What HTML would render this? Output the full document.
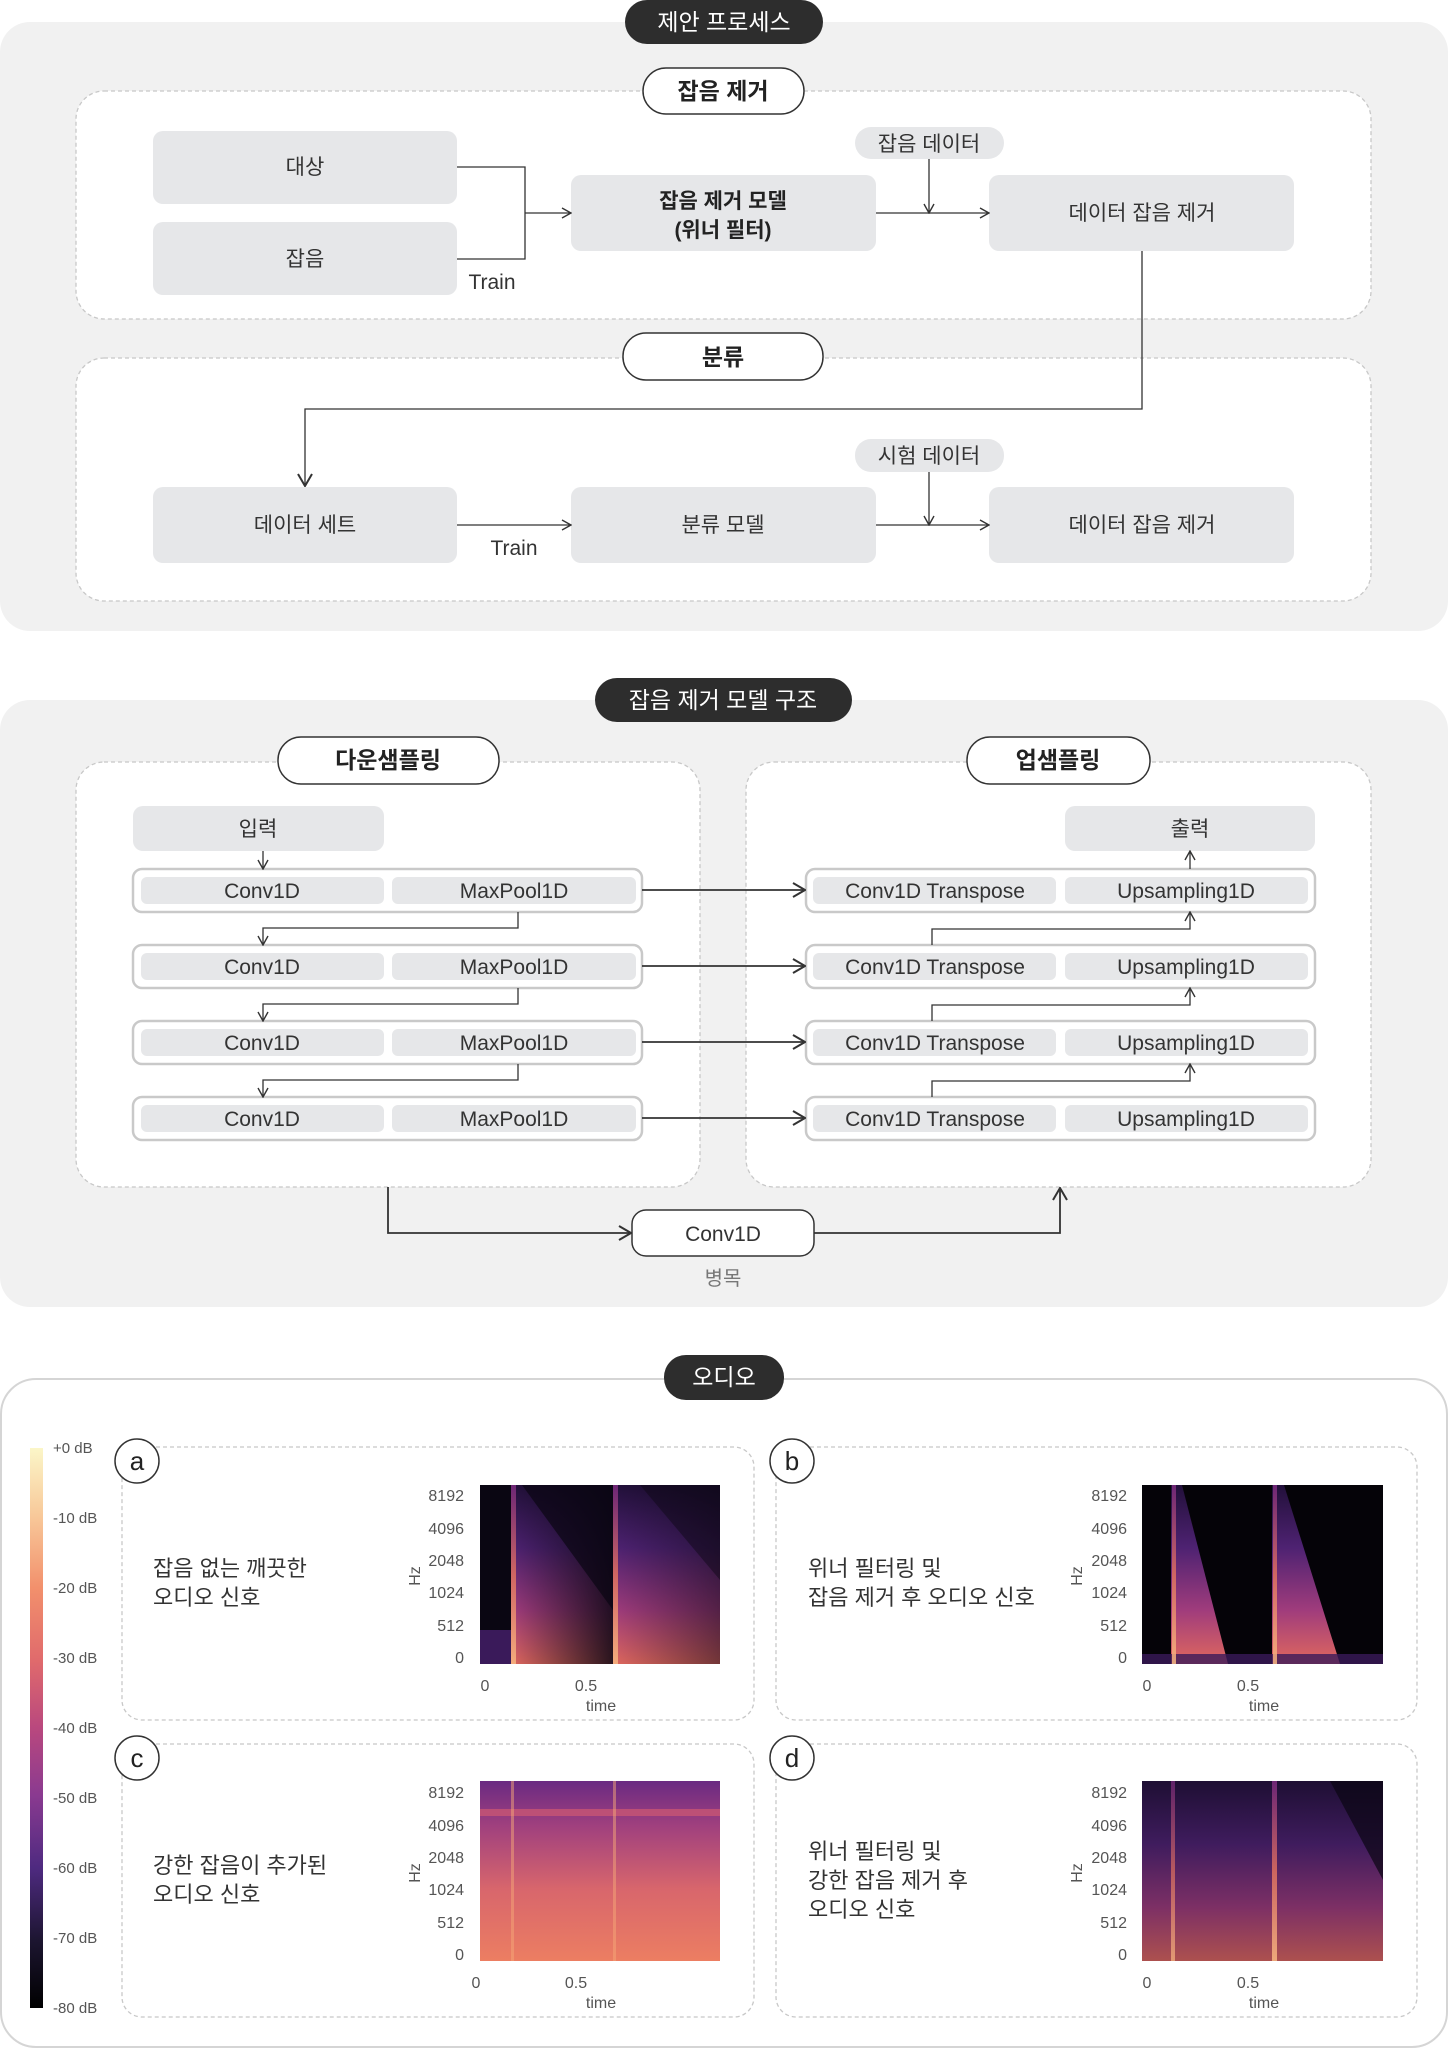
<!DOCTYPE html>
<html><head><meta charset="utf-8"><style>
html,body{margin:0;padding:0;background:#fff;}
svg{display:block;font-family:"Liberation Sans","Noto Sans CJK KR",sans-serif;}
</style></head><body>
<svg width="1448" height="2050" viewBox="0 0 1448 2050" xmlns="http://www.w3.org/2000/svg">
<defs>
<marker id="ar" viewBox="0 0 12 12" refX="11" refY="6" markerWidth="12" markerHeight="12" markerUnits="userSpaceOnUse" orient="auto"><path d="M2,1 L11,6 L2,11" fill="none" stroke="#333" stroke-width="1.4"/></marker>
<marker id="ar2" viewBox="0 0 16 16" refX="15" refY="8" markerWidth="16" markerHeight="16" markerUnits="userSpaceOnUse" orient="auto"><path d="M3,1 L15,8 L3,15" fill="none" stroke="#333" stroke-width="2"/></marker>
<linearGradient id="cb" x1="0" y1="0" x2="0" y2="1">
<stop offset="0" stop-color="#fbf6c8"/><stop offset="0.12" stop-color="#f8c99a"/><stop offset="0.25" stop-color="#f2906c"/><stop offset="0.38" stop-color="#e06a6c"/><stop offset="0.5" stop-color="#b9487e"/><stop offset="0.62" stop-color="#8a3a90"/><stop offset="0.75" stop-color="#4e2a80"/><stop offset="0.88" stop-color="#1c1530"/><stop offset="1" stop-color="#000"/></linearGradient>
<linearGradient id="gv" x1="0" y1="1" x2="0" y2="0">
<stop offset="0" stop-color="#e0685e"/><stop offset="0.3" stop-color="#a03c7c"/><stop offset="0.65" stop-color="#4e2272"/><stop offset="1" stop-color="#22103a"/></linearGradient>
<linearGradient id="gc" x1="0" y1="1" x2="0" y2="0">
<stop offset="0" stop-color="#ec7e62"/><stop offset="0.4" stop-color="#d8666c"/><stop offset="0.75" stop-color="#a0407e"/><stop offset="1" stop-color="#6a2a82"/></linearGradient>
<linearGradient id="strip" x1="0" y1="1" x2="0" y2="0">
<stop offset="0" stop-color="#f8b882"/><stop offset="0.5" stop-color="#e0705e"/><stop offset="1" stop-color="#7a2a80"/></linearGradient>
<linearGradient id="fade" x1="0" y1="0" x2="1" y2="0">
<stop offset="0" stop-color="#0a0612" stop-opacity="0"/><stop offset="1" stop-color="#0a0612" stop-opacity="0.85"/></linearGradient>
</defs>

<!-- SECTION 1 -->
<rect x="0" y="22" width="1448" height="609" rx="30" fill="#f1f1f1"/>
<rect x="625" y="0" width="198" height="44" rx="22" fill="#2d2d2d"/>
<text x="724" y="30" font-size="23" fill="#fff" text-anchor="middle">제안 프로세스</text>

<rect x="76" y="91" width="1295" height="228" rx="28" fill="#fff" stroke="#c8c8c8" stroke-width="1.3" stroke-dasharray="4 3"/>
<rect x="643" y="68" width="161" height="46" rx="23" fill="#fff" stroke="#333" stroke-width="1.5"/>
<text x="723" y="99" font-size="23" fill="#222" text-anchor="middle" font-weight="bold">잡음 제거</text>

<g font-size="21" fill="#333" text-anchor="middle">
<rect x="153" y="131" width="304" height="73" rx="10" fill="#e6e7e9"/>
<text x="305" y="174">대상</text>
<rect x="153" y="222" width="304" height="73" rx="10" fill="#e6e7e9"/>
<text x="305" y="266">잡음</text>
<rect x="571" y="175" width="305" height="76" rx="10" fill="#e6e7e9"/>
<text x="723" y="208" font-weight="bold" fill="#222">잡음 제거 모델</text>
<text x="723" y="237" font-weight="bold" fill="#222">(위너 필터)</text>
<rect x="989" y="175" width="305" height="76" rx="10" fill="#e6e7e9"/>
<text x="1142" y="220">데이터 잡음 제거</text>
<rect x="855" y="127" width="149" height="32" rx="16" fill="#e6e7e9"/>
<text x="929" y="151">잡음 데이터</text>
<text x="492" y="289">Train</text>
</g>
<g fill="none" stroke="#333" stroke-width="1.3">
<path d="M457 167 H525 V259 H457"/>
<path d="M525 213 H571" marker-end="url(#ar)"/>
<path d="M876 213 H989" marker-end="url(#ar)"/>
<path d="M929 159 V213" marker-end="url(#ar)"/>
</g>

<rect x="76" y="358" width="1295" height="243" rx="28" fill="#fff" stroke="#c8c8c8" stroke-width="1.3" stroke-dasharray="4 3"/>
<path d="M1142 251 V409 H305 V486" fill="none" stroke="#333" stroke-width="1.3" marker-end="url(#ar2)"/>
<rect x="623" y="333" width="200" height="47" rx="23" fill="#fff" stroke="#333" stroke-width="1.5"/>
<text x="723" y="365" font-size="23" fill="#222" text-anchor="middle" font-weight="bold">분류</text>
<g font-size="21" fill="#333" text-anchor="middle">
<rect x="153" y="487" width="304" height="76" rx="10" fill="#e6e7e9"/>
<text x="305" y="532">데이터 세트</text>
<rect x="571" y="487" width="305" height="76" rx="10" fill="#e6e7e9"/>
<text x="723" y="532">분류 모델</text>
<rect x="989" y="487" width="305" height="76" rx="10" fill="#e6e7e9"/>
<text x="1142" y="532">데이터 잡음 제거</text>
<rect x="855" y="439" width="149" height="33" rx="16" fill="#e6e7e9"/>
<text x="929" y="463">시험 데이터</text>
<text x="514" y="555">Train</text>
</g>
<g fill="none" stroke="#333" stroke-width="1.3">
<path d="M457 525 H571" marker-end="url(#ar)"/>
<path d="M876 525 H989" marker-end="url(#ar)"/>
<path d="M929 472 V525" marker-end="url(#ar)"/>
</g>

<!-- SECTION 2 -->
<rect x="0" y="700" width="1448" height="607" rx="30" fill="#f1f1f1"/>
<rect x="595" y="678" width="257" height="44" rx="22" fill="#2d2d2d"/>
<text x="723" y="708" font-size="23" fill="#fff" text-anchor="middle">잡음 제거 모델 구조</text>

<rect x="76" y="762" width="624" height="425" rx="28" fill="#fff" stroke="#c8c8c8" stroke-width="1.3" stroke-dasharray="4 3"/>
<rect x="746" y="762" width="625" height="425" rx="28" fill="#fff" stroke="#c8c8c8" stroke-width="1.3" stroke-dasharray="4 3"/>
<rect x="278" y="737" width="221" height="47" rx="23" fill="#fff" stroke="#333" stroke-width="1.5"/>
<text x="388" y="768" font-size="23" fill="#222" text-anchor="middle" font-weight="bold">다운샘플링</text>
<rect x="967" y="737" width="183" height="47" rx="23" fill="#fff" stroke="#333" stroke-width="1.5"/>
<text x="1058" y="768" font-size="23" fill="#222" text-anchor="middle" font-weight="bold">업샘플링</text>

<g font-size="21" fill="#333" text-anchor="middle">
<rect x="133" y="806" width="251" height="45" rx="10" fill="#e6e7e9"/>
<text x="258" y="836">입력</text>
<rect x="1065" y="806" width="250" height="45" rx="10" fill="#e6e7e9"/>
<text x="1190" y="836">출력</text>

<g id="rowL">
<rect x="133" y="869" width="509" height="43" rx="9" fill="#fff" stroke="#c9c9c9" stroke-width="2.5"/>
<rect x="141" y="877" width="243" height="27" rx="6" fill="#e6e7e9"/>
<rect x="392" y="877" width="244" height="27" rx="6" fill="#e6e7e9"/>
<text x="262" y="898">Conv1D</text>
<text x="514" y="898">MaxPool1D</text>
<rect x="806" y="869" width="509" height="43" rx="9" fill="#fff" stroke="#c9c9c9" stroke-width="2.5"/>
<rect x="813" y="877" width="243" height="27" rx="6" fill="#e6e7e9"/>
<rect x="1065" y="877" width="243" height="27" rx="6" fill="#e6e7e9"/>
<text x="935" y="898">Conv1D Transpose</text>
<text x="1186" y="898">Upsampling1D</text>
</g>
<use href="#rowL" y="76"/>
<use href="#rowL" y="152"/>
<use href="#rowL" y="228"/>
</g>
<g fill="none" stroke="#333" stroke-width="1.3">
<path d="M263 851 V869" marker-end="url(#ar)"/>
<path d="M1190 869 V851" marker-end="url(#ar)"/>
<path d="M518 912 V928 H263 V945" marker-end="url(#ar)"/>
<path d="M518 988 V1004 H263 V1021" marker-end="url(#ar)"/>
<path d="M518 1064 V1080 H263 V1097" marker-end="url(#ar)"/>
<path d="M932 945 V929 H1190 V912" marker-end="url(#ar)"/>
<path d="M932 1021 V1005 H1190 V988" marker-end="url(#ar)"/>
<path d="M932 1097 V1081 H1190 V1064" marker-end="url(#ar)"/>
</g>
<g fill="none" stroke="#333" stroke-width="1.8">
<path d="M642 890 H805" marker-end="url(#ar2)"/>
<path d="M642 966 H805" marker-end="url(#ar2)"/>
<path d="M642 1042 H805" marker-end="url(#ar2)"/>
<path d="M642 1118 H805" marker-end="url(#ar2)"/>
<path d="M388 1187 V1233 H631" marker-end="url(#ar2)"/>
<path d="M814 1233 H1060 V1188" marker-end="url(#ar2)"/>
</g>
<rect x="632" y="1210" width="182" height="46" rx="14" fill="#fff" stroke="#333" stroke-width="1.5"/>
<text x="723" y="1241" font-size="21" fill="#333" text-anchor="middle">Conv1D</text>
<text x="723" y="1285" font-size="20" fill="#777" text-anchor="middle">병목</text>

<!-- SECTION 3 -->
<rect x="1" y="1379" width="1446" height="668" rx="35" fill="#fff" stroke="#d5d5d5" stroke-width="2"/>
<rect x="664" y="1355" width="120" height="45" rx="22" fill="#2d2d2d"/>
<text x="724" y="1385" font-size="23" fill="#fff" text-anchor="middle">오디오</text>

<rect x="30" y="1448" width="13" height="560" fill="url(#cb)"/>
<g font-size="15" fill="#555">
<text x="53" y="1453">+0 dB</text>
<text x="53" y="1523">-10 dB</text>
<text x="53" y="1593">-20 dB</text>
<text x="53" y="1663">-30 dB</text>
<text x="53" y="1733">-40 dB</text>
<text x="53" y="1803">-50 dB</text>
<text x="53" y="1873">-60 dB</text>
<text x="53" y="1943">-70 dB</text>
<text x="53" y="2013">-80 dB</text>
</g>

<g fill="#fff" stroke="#c8c8c8" stroke-width="1.3" stroke-dasharray="4 3">
<rect x="122" y="1447" width="632" height="273" rx="20"/>
<rect x="776" y="1447" width="641" height="273" rx="20"/>
<rect x="122" y="1744" width="632" height="273" rx="20"/>
<rect x="776" y="1744" width="641" height="273" rx="20"/>
</g>
<g fill="#fff" stroke="#333" stroke-width="1.5">
<circle cx="137" cy="1461" r="22"/><circle cx="792" cy="1461" r="22"/>
<circle cx="137" cy="1758" r="22"/><circle cx="792" cy="1758" r="22"/>
</g>
<g font-size="26" fill="#222" text-anchor="middle">
<text x="137" y="1470">a</text><text x="792" y="1470">b</text>
<text x="137" y="1767">c</text><text x="792" y="1767">d</text>
</g>
<g font-size="22" fill="#333">
<text x="153" y="1576">잡음 없는 깨끗한</text><text x="153" y="1605">오디오 신호</text>
<text x="808" y="1576">위너 필터링 및</text><text x="808" y="1605">잡음 제거 후 오디오 신호</text>
<text x="153" y="1873">강한 잡음이 추가된</text><text x="153" y="1902">오디오 신호</text>
<text x="808" y="1859">위너 필터링 및</text><text x="808" y="1888">강한 잡음 제거 후</text><text x="808" y="1917">오디오 신호</text>
</g>

<g font-size="16" fill="#555" text-anchor="end">
<g id="ticks">
<text x="464" y="1501">8192</text><text x="464" y="1534">4096</text><text x="464" y="1566">2048</text>
<text x="464" y="1598">1024</text><text x="464" y="1631">512</text><text x="464" y="1663">0</text>
</g>
<use href="#ticks" y="297"/>
<use href="#ticks" x="663"/>
<use href="#ticks" x="663" y="297"/>
</g>
<g font-size="16" fill="#555" text-anchor="middle">
<text transform="translate(420,1576) rotate(-90)">Hz</text>
<text transform="translate(420,1873) rotate(-90)">Hz</text>
<text transform="translate(1082,1576) rotate(-90)">Hz</text>
<text transform="translate(1082,1873) rotate(-90)">Hz</text>
<text x="485" y="1691">0</text><text x="586" y="1691">0.5</text><text x="601" y="1711">time</text>
<text x="476" y="1988">0</text><text x="576" y="1988">0.5</text><text x="601" y="2008">time</text>
<text x="1147" y="1691">0</text><text x="1248" y="1691">0.5</text><text x="1264" y="1711">time</text>
<text x="1147" y="1988">0</text><text x="1248" y="1988">0.5</text><text x="1264" y="2008">time</text>
</g>

<!-- spectrogram a -->
<rect x="480" y="1485" width="240" height="179" fill="#0a0612"/>
<rect x="480" y="1630" width="31" height="34" fill="#3a1a5a"/>
<rect x="511" y="1485" width="102" height="179" fill="url(#gv)"/>
<rect x="511" y="1485" width="102" height="179" fill="url(#fade)"/>
<polygon points="522,1485 613,1485 613,1610" fill="#0a0612" opacity="0.7"/>
<rect x="613" y="1485" width="107" height="179" fill="url(#gv)"/>
<rect x="613" y="1485" width="107" height="179" fill="url(#fade)" opacity="0.6"/>
<polygon points="640,1485 720,1485 720,1580" fill="#0a0612" opacity="0.45"/>
<rect x="511" y="1485" width="5" height="179" fill="url(#strip)" opacity="0.85"/>
<rect x="613" y="1485" width="5" height="179" fill="url(#strip)" opacity="0.85"/>

<!-- spectrogram b -->
<rect x="1142" y="1485" width="241" height="179" fill="#050308"/>
<polygon points="1171,1485 1182,1485 1228,1664 1171,1664" fill="url(#gv)"/>
<polygon points="1272,1485 1284,1485 1340,1664 1272,1664" fill="url(#gv)"/>
<rect x="1142" y="1654" width="241" height="10" fill="#3a1a5a" opacity="0.8"/>
<rect x="1172" y="1485" width="4" height="179" fill="url(#strip)" opacity="0.85"/>
<rect x="1273" y="1485" width="4" height="179" fill="url(#strip)" opacity="0.85"/>

<!-- spectrogram c -->
<rect x="480" y="1781" width="240" height="180" fill="url(#gc)"/>
<rect x="480" y="1809" width="240" height="7" fill="#d05a72" opacity="0.7"/>
<rect x="511" y="1781" width="3" height="180" fill="#f6a878" opacity="0.5"/>
<rect x="613" y="1781" width="3" height="180" fill="#f6a878" opacity="0.5"/>

<!-- spectrogram d -->
<rect x="1142" y="1781" width="241" height="180" fill="#120a20"/>
<rect x="1142" y="1781" width="241" height="180" fill="url(#gv)" opacity="0.75"/>
<polygon points="1330,1781 1383,1781 1383,1880" fill="#0a0612" opacity="0.7"/>
<rect x="1171" y="1781" width="4" height="180" fill="url(#strip)" opacity="0.7"/>
<rect x="1272" y="1781" width="5" height="180" fill="url(#strip)" opacity="0.85"/>
</svg>
</body></html>
